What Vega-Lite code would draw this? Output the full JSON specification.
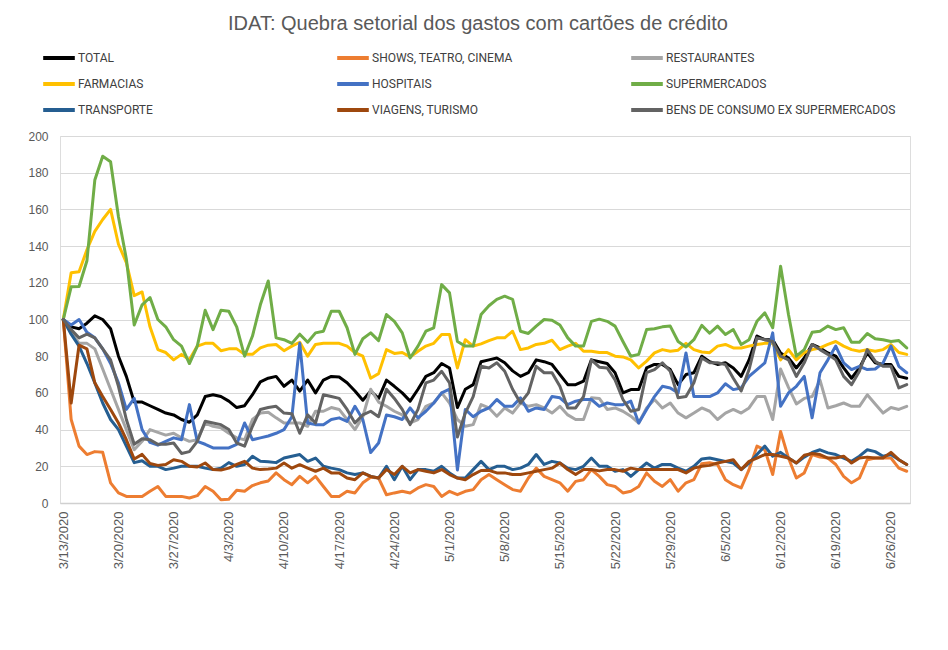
{
  "$schema": "https://vega.github.io/schema/vega-lite/v6.json",
  "width": 850,
  "height": 367,
  "autosize": {"type": "none"},
  "padding": {"left": 60, "top": 136, "right": 38, "bottom": 147},
  "background": "white",
  "title": {
    "text": "IDAT: Quebra setorial dos gastos com cartões de crédito",
    "font": "Liberation Sans",
    "fontSize": 20,
    "fontWeight": "normal",
    "color": "#595959",
    "anchor": "middle",
    "dx": -7,
    "offset": 6
  },
  "datasets": {
    "nomes": [
      {"k": "TOTAL", "serie": "TOTAL"},
      {"k": "SHOWS", "serie": "SHOWS, TEATRO, CINEMA"},
      {"k": "REST", "serie": "RESTAURANTES"},
      {"k": "FARM", "serie": "FARMACIAS"},
      {"k": "HOSP", "serie": "HOSPITAIS"},
      {"k": "SUPER", "serie": "SUPERMERCADOS"},
      {"k": "TRANSP", "serie": "TRANSPORTE"},
      {"k": "VIAG", "serie": "VIAGENS, TURISMO"},
      {"k": "BENS", "serie": "BENS DE CONSUMO EX SUPERMERCADOS"}
    ],
    "gastos": [
      {"d":"2020-03-13","TOTAL":100,"SHOWS":100,"REST":100,"FARM":100,"HOSP":100,"SUPER":100,"TRANSP":100,"VIAG":100,"BENS":100},
      {"d":"2020-03-14","TOTAL":96,"SHOWS":45.5,"REST":93,"FARM":125.5,"HOSP":97,"SUPER":117.8,"TRANSP":92,"VIAG":54.5,"BENS":94.5},
      {"d":"2020-03-15","TOTAL":95,"SHOWS":31,"REST":87,"FARM":126,"HOSP":100,"SUPER":118,"TRANSP":85.5,"VIAG":86,"BENS":90},
      {"d":"2020-03-16","TOTAL":98,"SHOWS":26.4,"REST":87,"FARM":138,"HOSP":93,"SUPER":132,"TRANSP":76,"VIAG":84,"BENS":92},
      {"d":"2020-03-17","TOTAL":102,"SHOWS":28,"REST":84,"FARM":148,"HOSP":90,"SUPER":176,"TRANSP":65.5,"VIAG":65.5,"BENS":90},
      {"d":"2020-03-18","TOTAL":100,"SHOWS":27.6,"REST":73,"FARM":154.5,"HOSP":84,"SUPER":189,"TRANSP":54.5,"VIAG":58,"BENS":84},
      {"d":"2020-03-19","TOTAL":95,"SHOWS":11,"REST":62,"FARM":160,"HOSP":76,"SUPER":186,"TRANSP":45.5,"VIAG":51,"BENS":78},
      {"d":"2020-03-20","TOTAL":80,"SHOWS":5.5,"REST":51,"FARM":141,"HOSP":65.5,"SUPER":156,"TRANSP":40,"VIAG":43.6,"BENS":63.6},
      {"d":"2020-03-21","TOTAL":69,"SHOWS":3.6,"REST":40,"FARM":131,"HOSP":51,"SUPER":133,"TRANSP":31,"VIAG":34.5,"BENS":45.5},
      {"d":"2020-03-22","TOTAL":55,"SHOWS":3.6,"REST":29,"FARM":113,"HOSP":57,"SUPER":97,"TRANSP":22,"VIAG":24,"BENS":32},
      {"d":"2020-03-23","TOTAL":55,"SHOWS":3.6,"REST":33.6,"FARM":115,"HOSP":40,"SUPER":108,"TRANSP":23,"VIAG":26.5,"BENS":35},
      {"d":"2020-03-24","TOTAL":53,"SHOWS":6.4,"REST":40,"FARM":96,"HOSP":33,"SUPER":112,"TRANSP":20,"VIAG":21.5,"BENS":34.5},
      {"d":"2020-03-25","TOTAL":51,"SHOWS":9,"REST":38.5,"FARM":83.6,"HOSP":31.5,"SUPER":100,"TRANSP":20,"VIAG":20.5,"BENS":32},
      {"d":"2020-03-26","TOTAL":49,"SHOWS":3.6,"REST":37,"FARM":82,"HOSP":33.6,"SUPER":96,"TRANSP":18.2,"VIAG":21,"BENS":32},
      {"d":"2020-03-27","TOTAL":48,"SHOWS":3.6,"REST":38,"FARM":78,"HOSP":35.5,"SUPER":89,"TRANSP":19,"VIAG":23.6,"BENS":32.7},
      {"d":"2020-03-28","TOTAL":45.5,"SHOWS":3.6,"REST":35.5,"FARM":81,"HOSP":34.5,"SUPER":85.5,"TRANSP":20,"VIAG":22.7,"BENS":27},
      {"d":"2020-03-29","TOTAL":44,"SHOWS":2.7,"REST":33.6,"FARM":78,"HOSP":53.6,"SUPER":76,"TRANSP":20,"VIAG":20,"BENS":28},
      {"d":"2020-03-30","TOTAL":48,"SHOWS":4,"REST":34.5,"FARM":85.5,"HOSP":33.6,"SUPER":85.5,"TRANSP":20,"VIAG":19.6,"BENS":33.6},
      {"d":"2020-03-31","TOTAL":58,"SHOWS":9,"REST":43.6,"FARM":87,"HOSP":32,"SUPER":105,"TRANSP":19,"VIAG":21.8,"BENS":44.5},
      {"d":"2020-04-01","TOTAL":59,"SHOWS":6.4,"REST":41.8,"FARM":87,"HOSP":30,"SUPER":94.5,"TRANSP":18.2,"VIAG":18.2,"BENS":43.6},
      {"d":"2020-04-02","TOTAL":58,"SHOWS":1.8,"REST":41,"FARM":83,"HOSP":30,"SUPER":105,"TRANSP":19,"VIAG":18,"BENS":42.7},
      {"d":"2020-04-03","TOTAL":55.5,"SHOWS":2,"REST":38,"FARM":84,"HOSP":30,"SUPER":104.5,"TRANSP":22,"VIAG":19,"BENS":40},
      {"d":"2020-04-04","TOTAL":52,"SHOWS":7,"REST":35.5,"FARM":84,"HOSP":32,"SUPER":96,"TRANSP":20,"VIAG":21,"BENS":32.7},
      {"d":"2020-04-05","TOTAL":53,"SHOWS":6.4,"REST":34.5,"FARM":81,"HOSP":43.6,"SUPER":80,"TRANSP":21,"VIAG":22.7,"BENS":31},
      {"d":"2020-04-06","TOTAL":59,"SHOWS":9.5,"REST":45.5,"FARM":81,"HOSP":34.5,"SUPER":91,"TRANSP":25.5,"VIAG":19,"BENS":41.8},
      {"d":"2020-04-07","TOTAL":66,"SHOWS":11,"REST":49,"FARM":84.5,"HOSP":35.5,"SUPER":108,"TRANSP":22.7,"VIAG":18.2,"BENS":51},
      {"d":"2020-04-08","TOTAL":68,"SHOWS":12,"REST":49.5,"FARM":86,"HOSP":36.5,"SUPER":121,"TRANSP":22.5,"VIAG":18.5,"BENS":52},
      {"d":"2020-04-09","TOTAL":69,"SHOWS":16.4,"REST":46.4,"FARM":86.4,"HOSP":38,"SUPER":90,"TRANSP":22,"VIAG":19,"BENS":52.7},
      {"d":"2020-04-10","TOTAL":63.6,"SHOWS":12.7,"REST":43.6,"FARM":83,"HOSP":40,"SUPER":89,"TRANSP":24.5,"VIAG":21.8,"BENS":49},
      {"d":"2020-04-11","TOTAL":67,"SHOWS":10,"REST":43.6,"FARM":85.5,"HOSP":47,"SUPER":87,"TRANSP":25.5,"VIAG":19,"BENS":48.7},
      {"d":"2020-04-12","TOTAL":61,"SHOWS":14.5,"REST":43.6,"FARM":87.6,"HOSP":87,"SUPER":92,"TRANSP":26.4,"VIAG":20.9,"BENS":38},
      {"d":"2020-04-13","TOTAL":67,"SHOWS":11,"REST":41.8,"FARM":80,"HOSP":43.6,"SUPER":87.6,"TRANSP":22.7,"VIAG":19,"BENS":48},
      {"d":"2020-04-14","TOTAL":60,"SHOWS":14.5,"REST":50,"FARM":86.4,"HOSP":42.7,"SUPER":92.7,"TRANSP":24.5,"VIAG":17.3,"BENS":43.6},
      {"d":"2020-04-15","TOTAL":67,"SHOWS":9,"REST":50,"FARM":87,"HOSP":42.7,"SUPER":93.6,"TRANSP":20,"VIAG":19,"BENS":59},
      {"d":"2020-04-16","TOTAL":69,"SHOWS":3.6,"REST":52,"FARM":87,"HOSP":45.5,"SUPER":104.5,"TRANSP":19,"VIAG":16.4,"BENS":58},
      {"d":"2020-04-17","TOTAL":68.7,"SHOWS":3.6,"REST":51,"FARM":87,"HOSP":46.4,"SUPER":104.5,"TRANSP":18.2,"VIAG":16.4,"BENS":57},
      {"d":"2020-04-18","TOTAL":65.5,"SHOWS":6.4,"REST":45.5,"FARM":85.5,"HOSP":44.5,"SUPER":95.5,"TRANSP":16.4,"VIAG":13.6,"BENS":51},
      {"d":"2020-04-19","TOTAL":61,"SHOWS":5.5,"REST":40,"FARM":82,"HOSP":52.7,"SUPER":81,"TRANSP":15.5,"VIAG":12.7,"BENS":43.6},
      {"d":"2020-04-20","TOTAL":56,"SHOWS":11,"REST":47,"FARM":80,"HOSP":45.5,"SUPER":89.5,"TRANSP":16.4,"VIAG":16.4,"BENS":48},
      {"d":"2020-04-21","TOTAL":61,"SHOWS":14,"REST":62,"FARM":68,"HOSP":27.5,"SUPER":92.7,"TRANSP":14.5,"VIAG":14.5,"BENS":50},
      {"d":"2020-04-22","TOTAL":57,"SHOWS":13.6,"REST":55,"FARM":70.5,"HOSP":32.7,"SUPER":88.5,"TRANSP":13.6,"VIAG":13.6,"BENS":47},
      {"d":"2020-04-23","TOTAL":67,"SHOWS":4.5,"REST":52.7,"FARM":83.6,"HOSP":48,"SUPER":102.7,"TRANSP":20,"VIAG":18.2,"BENS":62},
      {"d":"2020-04-24","TOTAL":63.6,"SHOWS":5.5,"REST":50,"FARM":81.5,"HOSP":47,"SUPER":99,"TRANSP":12.7,"VIAG":15.5,"BENS":57},
      {"d":"2020-04-25","TOTAL":60,"SHOWS":6.4,"REST":48,"FARM":82,"HOSP":45.5,"SUPER":92.7,"TRANSP":20,"VIAG":20,"BENS":51},
      {"d":"2020-04-26","TOTAL":55.5,"SHOWS":5.5,"REST":43.6,"FARM":79.6,"HOSP":51.8,"SUPER":79,"TRANSP":12.7,"VIAG":16.4,"BENS":42.7},
      {"d":"2020-04-27","TOTAL":62,"SHOWS":8.2,"REST":45.5,"FARM":82.7,"HOSP":46.4,"SUPER":85.5,"TRANSP":18.2,"VIAG":18.2,"BENS":51},
      {"d":"2020-04-28","TOTAL":69,"SHOWS":10,"REST":52.7,"FARM":85.5,"HOSP":50,"SUPER":93.6,"TRANSP":18.2,"VIAG":17.3,"BENS":65.5},
      {"d":"2020-04-29","TOTAL":71,"SHOWS":9,"REST":54.5,"FARM":87,"HOSP":54.5,"SUPER":95.5,"TRANSP":17.3,"VIAG":16.4,"BENS":67},
      {"d":"2020-04-30","TOTAL":76,"SHOWS":3.6,"REST":60,"FARM":91.8,"HOSP":60,"SUPER":119,"TRANSP":20,"VIAG":18.2,"BENS":71.8},
      {"d":"2020-05-01","TOTAL":73.6,"SHOWS":6.4,"REST":54.5,"FARM":91.8,"HOSP":62,"SUPER":114.5,"TRANSP":16.4,"VIAG":15.5,"BENS":65.5},
      {"d":"2020-05-02","TOTAL":52,"SHOWS":4.5,"REST":45.5,"FARM":73.6,"HOSP":18,"SUPER":88,"TRANSP":13.6,"VIAG":13.6,"BENS":36},
      {"d":"2020-05-03","TOTAL":62,"SHOWS":6.4,"REST":41.8,"FARM":89,"HOSP":51,"SUPER":85.5,"TRANSP":13.6,"VIAG":12.7,"BENS":49},
      {"d":"2020-05-04","TOTAL":64.5,"SHOWS":7.3,"REST":42.7,"FARM":85.5,"HOSP":47,"SUPER":85.5,"TRANSP":18.2,"VIAG":15.5,"BENS":58},
      {"d":"2020-05-05","TOTAL":77,"SHOWS":12.7,"REST":53.6,"FARM":86.7,"HOSP":50,"SUPER":102.7,"TRANSP":22.7,"VIAG":17.7,"BENS":74.5},
      {"d":"2020-05-06","TOTAL":78,"SHOWS":15.5,"REST":51.8,"FARM":88.5,"HOSP":51.8,"SUPER":107.5,"TRANSP":18.2,"VIAG":17.8,"BENS":73.6},
      {"d":"2020-05-07","TOTAL":79,"SHOWS":12.7,"REST":47.3,"FARM":90,"HOSP":56.4,"SUPER":111,"TRANSP":20,"VIAG":16.4,"BENS":76.4},
      {"d":"2020-05-08","TOTAL":76.4,"SHOWS":10,"REST":51.8,"FARM":90,"HOSP":52.7,"SUPER":112.7,"TRANSP":20,"VIAG":16.4,"BENS":71.8},
      {"d":"2020-05-09","TOTAL":72,"SHOWS":7.3,"REST":49,"FARM":93.6,"HOSP":52.7,"SUPER":111,"TRANSP":18.2,"VIAG":15.5,"BENS":62},
      {"d":"2020-05-10","TOTAL":69,"SHOWS":6.4,"REST":54.5,"FARM":83.6,"HOSP":57.3,"SUPER":93.6,"TRANSP":19,"VIAG":15.5,"BENS":54.5},
      {"d":"2020-05-11","TOTAL":71,"SHOWS":13.6,"REST":52.7,"FARM":84.5,"HOSP":50,"SUPER":92.4,"TRANSP":21,"VIAG":16.4,"BENS":60},
      {"d":"2020-05-12","TOTAL":78,"SHOWS":19,"REST":53.6,"FARM":86.4,"HOSP":51.8,"SUPER":96.4,"TRANSP":26.4,"VIAG":17.3,"BENS":74.5},
      {"d":"2020-05-13","TOTAL":77,"SHOWS":14.5,"REST":51.8,"FARM":87,"HOSP":51,"SUPER":100,"TRANSP":21,"VIAG":18.2,"BENS":71},
      {"d":"2020-05-14","TOTAL":75.5,"SHOWS":12.7,"REST":49,"FARM":88.7,"HOSP":58,"SUPER":99.6,"TRANSP":22.7,"VIAG":19,"BENS":71},
      {"d":"2020-05-15","TOTAL":70,"SHOWS":11,"REST":52.7,"FARM":83.6,"HOSP":57.3,"SUPER":97,"TRANSP":21.8,"VIAG":21.8,"BENS":63.6},
      {"d":"2020-05-16","TOTAL":64.5,"SHOWS":6.4,"REST":48,"FARM":85.5,"HOSP":53.6,"SUPER":90,"TRANSP":19,"VIAG":18.2,"BENS":51.8},
      {"d":"2020-05-17","TOTAL":64.5,"SHOWS":11.8,"REST":45.5,"FARM":87,"HOSP":55.5,"SUPER":85.5,"TRANSP":18.2,"VIAG":15.5,"BENS":51.8},
      {"d":"2020-05-18","TOTAL":66.4,"SHOWS":12.7,"REST":45.5,"FARM":82.7,"HOSP":56.4,"SUPER":85.5,"TRANSP":20,"VIAG":18.2,"BENS":58},
      {"d":"2020-05-19","TOTAL":78,"SHOWS":18.2,"REST":57.3,"FARM":82.7,"HOSP":56.4,"SUPER":99,"TRANSP":24.5,"VIAG":18.2,"BENS":78},
      {"d":"2020-05-20","TOTAL":77,"SHOWS":14.5,"REST":57,"FARM":82,"HOSP":52.7,"SUPER":100.2,"TRANSP":20,"VIAG":17.5,"BENS":74},
      {"d":"2020-05-21","TOTAL":76,"SHOWS":10,"REST":51,"FARM":82,"HOSP":54.5,"SUPER":99,"TRANSP":20,"VIAG":18.2,"BENS":73.6},
      {"d":"2020-05-22","TOTAL":71,"SHOWS":9,"REST":51.8,"FARM":80,"HOSP":53.6,"SUPER":96.4,"TRANSP":17.3,"VIAG":18.2,"BENS":67},
      {"d":"2020-05-23","TOTAL":60,"SHOWS":5.5,"REST":50,"FARM":79.6,"HOSP":53.6,"SUPER":88,"TRANSP":18.2,"VIAG":17.3,"BENS":56.4},
      {"d":"2020-05-24","TOTAL":61.8,"SHOWS":6.4,"REST":47.3,"FARM":78,"HOSP":55.5,"SUPER":80,"TRANSP":14.5,"VIAG":19,"BENS":50},
      {"d":"2020-05-25","TOTAL":61.8,"SHOWS":9,"REST":43.6,"FARM":73.6,"HOSP":43.6,"SUPER":81,"TRANSP":18.2,"VIAG":18.2,"BENS":51},
      {"d":"2020-05-26","TOTAL":73.6,"SHOWS":16.4,"REST":51.8,"FARM":77.3,"HOSP":51,"SUPER":94.5,"TRANSP":21.8,"VIAG":18.2,"BENS":71},
      {"d":"2020-05-27","TOTAL":75.5,"SHOWS":11.8,"REST":56.4,"FARM":81.8,"HOSP":58,"SUPER":95,"TRANSP":19,"VIAG":18.2,"BENS":72.7},
      {"d":"2020-05-28","TOTAL":75.5,"SHOWS":9,"REST":51.8,"FARM":83.6,"HOSP":63.6,"SUPER":96,"TRANSP":21,"VIAG":18.2,"BENS":76.4},
      {"d":"2020-05-29","TOTAL":72.7,"SHOWS":12.7,"REST":54.5,"FARM":82.7,"HOSP":62.7,"SUPER":96.4,"TRANSP":21,"VIAG":18.2,"BENS":71.8},
      {"d":"2020-05-30","TOTAL":64.5,"SHOWS":6.4,"REST":49,"FARM":83.3,"HOSP":60,"SUPER":88,"TRANSP":19,"VIAG":18.2,"BENS":57.3},
      {"d":"2020-05-31","TOTAL":70,"SHOWS":11,"REST":46.4,"FARM":87,"HOSP":81.8,"SUPER":85,"TRANSP":17.3,"VIAG":16.4,"BENS":58},
      {"d":"2020-06-01","TOTAL":71,"SHOWS":12.7,"REST":49,"FARM":83.6,"HOSP":58,"SUPER":89,"TRANSP":20,"VIAG":19,"BENS":65.5},
      {"d":"2020-06-02","TOTAL":80,"SHOWS":21.4,"REST":51.8,"FARM":82.3,"HOSP":58,"SUPER":96.8,"TRANSP":24,"VIAG":20,"BENS":79},
      {"d":"2020-06-03","TOTAL":77,"SHOWS":22,"REST":50,"FARM":81.9,"HOSP":58,"SUPER":92.5,"TRANSP":24.5,"VIAG":20.5,"BENS":76.4},
      {"d":"2020-06-04","TOTAL":75.5,"SHOWS":21,"REST":45.5,"FARM":85.5,"HOSP":60,"SUPER":96.4,"TRANSP":23.6,"VIAG":21.8,"BENS":76.4},
      {"d":"2020-06-05","TOTAL":76.4,"SHOWS":12.7,"REST":49,"FARM":86.4,"HOSP":65,"SUPER":91.8,"TRANSP":22.7,"VIAG":22.7,"BENS":75.5},
      {"d":"2020-06-06","TOTAL":73.6,"SHOWS":10,"REST":51,"FARM":84.5,"HOSP":61.8,"SUPER":94.5,"TRANSP":21.8,"VIAG":23.6,"BENS":68},
      {"d":"2020-06-07","TOTAL":69,"SHOWS":8.2,"REST":49,"FARM":84.5,"HOSP":62.7,"SUPER":86.4,"TRANSP":18.2,"VIAG":18.2,"BENS":61},
      {"d":"2020-06-08","TOTAL":78,"SHOWS":18.2,"REST":51.8,"FARM":85.5,"HOSP":69,"SUPER":89,"TRANSP":21.8,"VIAG":22.7,"BENS":72.7},
      {"d":"2020-06-09","TOTAL":91,"SHOWS":31,"REST":58,"FARM":86.4,"HOSP":72.7,"SUPER":99,"TRANSP":26.4,"VIAG":24.5,"BENS":90},
      {"d":"2020-06-10","TOTAL":89,"SHOWS":29,"REST":58,"FARM":87,"HOSP":76.4,"SUPER":103.6,"TRANSP":31,"VIAG":26.4,"BENS":89},
      {"d":"2020-06-11","TOTAL":89,"SHOWS":15.5,"REST":45.5,"FARM":87,"HOSP":92.7,"SUPER":95.5,"TRANSP":25.5,"VIAG":26.4,"BENS":88},
      {"d":"2020-06-12","TOTAL":81.8,"SHOWS":39,"REST":73,"FARM":78,"HOSP":52.7,"SUPER":129,"TRANSP":27.6,"VIAG":25.5,"BENS":80},
      {"d":"2020-06-13","TOTAL":79,"SHOWS":24.5,"REST":63,"FARM":83.6,"HOSP":60,"SUPER":102.7,"TRANSP":24.5,"VIAG":24.5,"BENS":78},
      {"d":"2020-06-14","TOTAL":73.6,"SHOWS":13.6,"REST":54,"FARM":78,"HOSP":63.6,"SUPER":80,"TRANSP":21.8,"VIAG":21.8,"BENS":69},
      {"d":"2020-06-15","TOTAL":79,"SHOWS":16.4,"REST":57,"FARM":82,"HOSP":69,"SUPER":83.6,"TRANSP":25,"VIAG":26,"BENS":76.4},
      {"d":"2020-06-16","TOTAL":86.4,"SHOWS":26.4,"REST":58,"FARM":83.6,"HOSP":46.4,"SUPER":93,"TRANSP":27.5,"VIAG":27,"BENS":86.4},
      {"d":"2020-06-17","TOTAL":84.5,"SHOWS":25,"REST":67,"FARM":84.5,"HOSP":71,"SUPER":93.6,"TRANSP":29,"VIAG":26.4,"BENS":83.6},
      {"d":"2020-06-18","TOTAL":81.8,"SHOWS":24.5,"REST":51.8,"FARM":86.4,"HOSP":78,"SUPER":96.4,"TRANSP":27.3,"VIAG":24.5,"BENS":81},
      {"d":"2020-06-19","TOTAL":80,"SHOWS":21,"REST":53,"FARM":88,"HOSP":85.5,"SUPER":94.5,"TRANSP":26.4,"VIAG":24.5,"BENS":78},
      {"d":"2020-06-20","TOTAL":73.6,"SHOWS":14.5,"REST":54.5,"FARM":85.5,"HOSP":76.4,"SUPER":95.5,"TRANSP":24.5,"VIAG":25.5,"BENS":69},
      {"d":"2020-06-21","TOTAL":68,"SHOWS":11,"REST":52.7,"FARM":83.6,"HOSP":72.7,"SUPER":87.6,"TRANSP":22.7,"VIAG":21.8,"BENS":64.5},
      {"d":"2020-06-22","TOTAL":73.6,"SHOWS":13.6,"REST":52.7,"FARM":82.7,"HOSP":74.5,"SUPER":87.6,"TRANSP":25.5,"VIAG":24.5,"BENS":71.8},
      {"d":"2020-06-23","TOTAL":81.8,"SHOWS":23.6,"REST":59,"FARM":83.6,"HOSP":72.7,"SUPER":92.4,"TRANSP":29,"VIAG":25,"BENS":83.6},
      {"d":"2020-06-24","TOTAL":76.4,"SHOWS":24.5,"REST":54,"FARM":82.7,"HOSP":73,"SUPER":89.5,"TRANSP":28,"VIAG":24.5,"BENS":77.3},
      {"d":"2020-06-25","TOTAL":75.5,"SHOWS":24.5,"REST":49,"FARM":83.6,"HOSP":76.4,"SUPER":89,"TRANSP":25.5,"VIAG":24.5,"BENS":74.5},
      {"d":"2020-06-26","TOTAL":75.5,"SHOWS":24.5,"REST":52,"FARM":86.4,"HOSP":85.5,"SUPER":88,"TRANSP":26.4,"VIAG":27.6,"BENS":74.5},
      {"d":"2020-06-27","TOTAL":69,"SHOWS":19,"REST":51,"FARM":82,"HOSP":74.5,"SUPER":88.5,"TRANSP":23.6,"VIAG":23.6,"BENS":62.7},
      {"d":"2020-06-28","TOTAL":68,"SHOWS":17.3,"REST":52.7,"FARM":81,"HOSP":71,"SUPER":84.5,"TRANSP":21,"VIAG":21,"BENS":64.5}
    ]
  },
  "data": {"name": "gastos"},
  "transform": [
    {"fold": ["TOTAL", "SHOWS", "REST", "FARM", "HOSP", "SUPER", "TRANSP", "VIAG", "BENS"], "as": ["k", "v"]},
    {"lookup": "k", "from": {"data": {"name": "nomes"}, "key": "k", "fields": ["serie"]}}
  ],
  "mark": {"type": "line", "strokeWidth": 3, "strokeJoin": "round", "strokeCap": "round"},
  "encoding": {
    "x": {
      "field": "d",
      "type": "temporal",
      "scale": {
        "type": "utc",
        "domain": [
          {"year": 2020, "month": 3, "date": 12, "hours": 14, "utc": true},
          {"year": 2020, "month": 6, "date": 28, "hours": 10, "utc": true}
        ]
      },
      "axis": {
        "title": null,
        "values": [
          {"year": 2020, "month": 3, "date": 13, "utc": true},
          {"year": 2020, "month": 3, "date": 20, "utc": true},
          {"year": 2020, "month": 3, "date": 27, "utc": true},
          {"year": 2020, "month": 4, "date": 3, "utc": true},
          {"year": 2020, "month": 4, "date": 10, "utc": true},
          {"year": 2020, "month": 4, "date": 17, "utc": true},
          {"year": 2020, "month": 4, "date": 24, "utc": true},
          {"year": 2020, "month": 5, "date": 1, "utc": true},
          {"year": 2020, "month": 5, "date": 8, "utc": true},
          {"year": 2020, "month": 5, "date": 15, "utc": true},
          {"year": 2020, "month": 5, "date": 22, "utc": true},
          {"year": 2020, "month": 5, "date": 29, "utc": true},
          {"year": 2020, "month": 6, "date": 5, "utc": true},
          {"year": 2020, "month": 6, "date": 12, "utc": true},
          {"year": 2020, "month": 6, "date": 19, "utc": true},
          {"year": 2020, "month": 6, "date": 26, "utc": true}
        ],
        "format": "%-m/%-d/%Y",
        "labelAngle": -90,
        "labelFont": "Liberation Sans",
        "labelFontSize": 13,
        "labelColor": "#595959",
        "labelPadding": 8,
        "grid": false,
        "ticks": false,
        "domain": true,
        "domainColor": "#d0d0d0",
        "domainWidth": 1.5,
        "labelOverlap": false
      }
    },
    "y": {
      "field": "v",
      "type": "quantitative",
      "scale": {"domain": [0, 200], "nice": false, "zero": true},
      "axis": {
        "title": null,
        "values": [0, 20, 40, 60, 80, 100, 120, 140, 160, 180, 200],
        "grid": true,
        "gridColor": "#d9d9d9",
        "gridWidth": 1,
        "domain": false,
        "ticks": false,
        "labelFont": "Liberation Sans",
        "labelFontSize": 12,
        "labelColor": "#595959",
        "labelPadding": 12
      }
    },
    "color": {
      "field": "serie",
      "type": "nominal",
      "scale": {
        "domain": ["TOTAL", "SHOWS, TEATRO, CINEMA", "RESTAURANTES", "FARMACIAS", "HOSPITAIS", "SUPERMERCADOS", "TRANSPORTE", "VIAGENS, TURISMO", "BENS DE CONSUMO EX SUPERMERCADOS"],
        "range": ["#000000", "#ED7D31", "#A5A5A5", "#FFC000", "#4472C4", "#70AD47", "#255E91", "#9E480E", "#636363"]
      },
      "legend": {
        "title": null,
        "orient": "none",
        "legendX": -19,
        "legendY": -96,
        "direction": "horizontal",
        "columns": 3,
        "gridAlign": "all",
        "columnPadding": 21,
        "rowPadding": -2,
        "symbolType": "stroke",
        "symbolSize": 1000,
        "symbolStrokeWidth": 4,
        "labelFont": "Roboto",
        "labelFontSize": 12,
        "labelColor": "#404040",
        "labelLimit": 400,
        "labelOffset": 1
      }
    }
  }
}
